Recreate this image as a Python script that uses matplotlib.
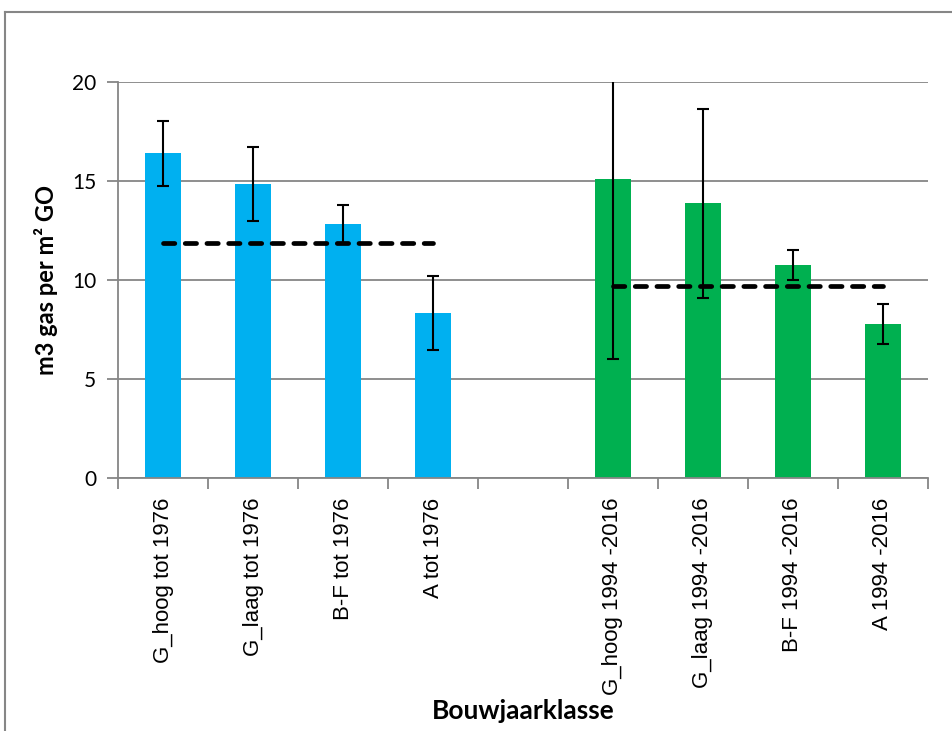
import numpy as np
import matplotlib
matplotlib.use('Agg')
import matplotlib.pyplot as plt
from matplotlib.lines import Line2D

categories = ['G_hoog tot 1976', 'G_laag tot 1976', 'B-F tot 1976', 'A tot 1976', '',
              'G_hoog 1994 -2016', 'G_laag 1994 -2016', 'B-F 1994 -2016', 'A 1994 -2016']
values = [16.4, 14.85, 12.82, 8.33, np.nan, 15.1, 13.88, 10.76, 7.79]
errors = [1.65, 1.88, 0.97, 1.88, np.nan, 9.1, 4.77, 0.76, 1.0]
group_avg = [11.89, 9.69]

blue = '#00B0F0'
green = '#00B050'
grey = '#868686'
colors = [blue] * 5 + [green] * 4

fig = plt.figure(figsize=(9.52, 7.31), dpi=100)
ax = fig.add_axes([118.3 / 952, 252.7 / 731, 809.4 / 952, 396.3 / 731])

x = np.arange(len(categories))
ax.bar(x, values, width=0.4, color=colors, zorder=2)
ax.errorbar(x, values, yerr=errors, fmt='none', ecolor='black', elinewidth=1.5,
            capsize=4.5, capthick=1.5, zorder=3)

# group averages
for (start, end), avg in zip([(0, 3), (5, 8)], group_avg):
    ax.plot([x[start], x[end]], [avg, avg], color='black', lw=3.4,
            dashes=(2.4, 2.2), dash_capstyle='round', zorder=4)

ax.set_xlim(-0.5, len(categories) - 0.5)
ax.set_ylim(0, 20)
ax.set_yticks([0, 5, 10, 15, 20])
ax.yaxis.grid(True, color=grey, lw=1.3, zorder=0)
ax.set_axisbelow(True)

for s in ['top', 'right']:
    ax.spines[s].set_visible(False)
for s in ['left', 'bottom']:
    ax.spines[s].set_color(grey)
    ax.spines[s].set_linewidth(1.3)

ax.set_xticks(x)
ax.set_xticklabels(categories, rotation=90, fontsize=16, family=['Liberation Sans', 'DejaVu Sans'])
ax.tick_params(axis='x', length=0, pad=14)
ax.set_xticks(np.arange(len(categories) + 1) - 0.5, minor=True)
ax.tick_params(axis='x', which='minor', length=8, color=grey, width=1.3)
ax.tick_params(axis='y', length=8, color=grey, width=1.3, labelsize=15, pad=8)
for lab in ax.get_yticklabels():
    lab.set_family(['Lato', 'DejaVu Sans'])

ax.set_ylabel('m3 gas per m² GO', fontsize=17, fontweight='bold',
              family=['Lato', 'DejaVu Sans'], labelpad=10)
ax.set_xlabel('Bouwjaarklasse', fontsize=19, fontweight='bold',
              family=['Lato', 'DejaVu Sans'])
ax.xaxis.set_label_coords(0.5, -(699 - 478.3) / 396.3)

# chart area border
fig.add_artist(Line2D([4.5 / 952, 4.5 / 952], [0, 1 - 11.5 / 731], color=grey, lw=1.5))
fig.add_artist(Line2D([4.5 / 952, 1], [1 - 11.5 / 731, 1 - 11.5 / 731], color=grey, lw=1.5))

fig.savefig('out.png', dpi=100)
